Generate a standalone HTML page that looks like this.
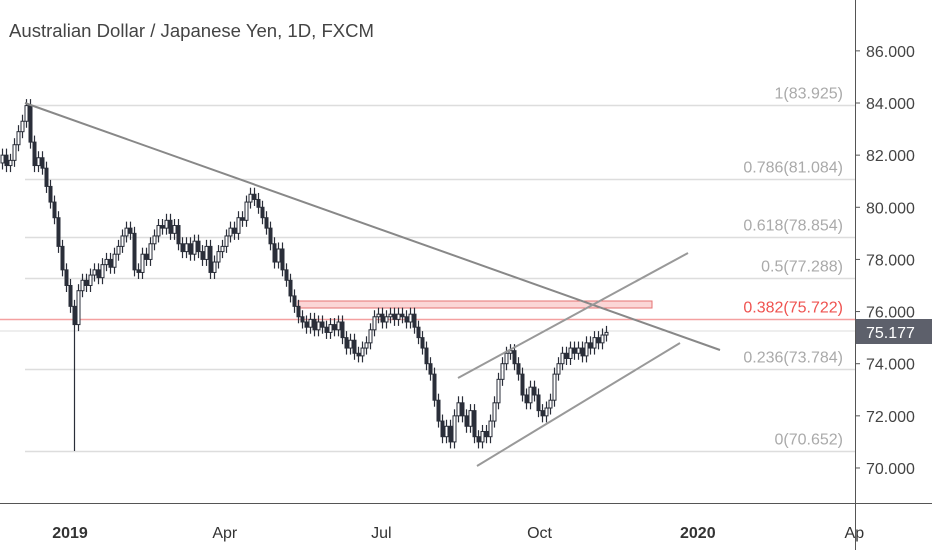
<!DOCTYPE html>
<html><head><meta charset="utf-8"><style>
body{margin:0;background:#fff;}
svg{display:block;font-family:"Liberation Sans",sans-serif;}
</style></head><body>
<svg id="chart" width="932" height="550" viewBox="0 0 932 550">
<rect width="932" height="550" fill="#fff"/>
<g id="fib"></g>
<rect x="298" y="301" width="354" height="7" fill="rgba(242,120,120,0.3)" stroke="#e57373" stroke-width="1"/>
<line x1="0" y1="331" x2="855" y2="331" stroke="#ddd" stroke-width="1"/>
<g id="candles"></g>
<line x1="25" y1="103" x2="720" y2="350" stroke="#888" stroke-width="2"/>
<line x1="458" y1="378" x2="688" y2="253" stroke="#999" stroke-width="2"/>
<line x1="477" y1="466" x2="680" y2="343" stroke="#999" stroke-width="2"/>
<line x1="855.5" y1="0" x2="855.5" y2="550" stroke="#555" stroke-width="1"/>
<line x1="0" y1="503.5" x2="932" y2="503.5" stroke="#555" stroke-width="1"/>
<g id="yticks"></g>
<g id="xticks"></g>
<rect x="856" y="319" width="76" height="25" fill="#5d606b"/>
<text x="866" y="338" font-size="16" fill="#fff">75.177</text>
<text x="9" y="37" font-size="18" fill="#444" textLength="365" lengthAdjust="spacingAndGlyphs">Australian Dollar / Japanese Yen, 1D, FXCM</text>
</svg>
<script>
const closes = [82.0,81.6,81.8,82.4,82.9,83.3,83.9,
82.5,81.6,81.9,81.5,80.8,80.2,
79.6,78.5,77.6,77.0,76.2,75.5,
76.8,77.2,77.0,77.4,77.6,77.3,77.8,78.0,77.7,78.2,78.5,78.9,79.2,79.0,77.6,77.5,78.2,78.0,78.6,78.9,79.3,79.2,79.5,79.0,79.3,78.6,78.3,78.6,78.2,78.7,78.3,78.0,78.5,77.5,77.9,78.3,78.5,78.9,79.2,79.0,79.6,79.5,80.2,80.5,80.3,80.0,79.6,79.2,78.6,77.9,78.4,77.6,77.2,76.6,76.2,75.8,75.6,75.4,75.7,75.3,75.6,75.4,75.2,75.5,75.3,75.6,75.0,74.6,74.9,74.4,74.3,74.6,74.8,75.3,75.8,75.9,75.6,75.8,75.9,75.7,75.9,75.8,75.6,75.9,75.4,75.0,74.6,74.0,73.6,72.6,71.8,71.2,71.6,71.0,72.0,72.5,72.0,71.6,72.2,71.2,71.0,71.4,71.2,71.8,72.5,73.4,74.0,74.4,74.5,74.0,73.6,72.8,72.5,73.1,72.8,72.2,72.0,72.3,72.6,73.6,74.0,74.4,74.2,74.6,74.4,74.6,74.3,74.8,74.6,75.0,74.8,75.1,75.2];
const flashCrashIndex = 18;
const flashCrashLow = 70.65;
const priceTicks = [86,84,82,80,78,76,74,72,70];
const fibRatios = ["1","0.786","0.618","0.5","0.382","0.236","0"];
const fibPrices = [83.925,81.084,78.854,77.288,75.722,73.784,70.652];
const timeLabels = ["2019","Apr","Jul","Oct","2020","Ap"];
const timeDays = [0,90,181,273,365,456];
const timeBold = [true,false,false,false,true,false];

const NS="http://www.w3.org/2000/svg";
function yS(p){return 103+(84-p)*26.07;}
function xDay(d){return 70+d*1.72;}
function xIdx(i){return 2+i*4;}
function mk(tag,attrs,parent){const e=document.createElementNS(NS,tag);for(const k in attrs)e.setAttribute(k,attrs[k]);parent.appendChild(e);return e;}

const fib=document.getElementById('fib');
fibPrices.forEach((p,i)=>{
  const red = fibRatios[i]==="0.382";
  const y=Math.round(yS(p))+0.5;
  const l=mk('line',{x1:red?0:25,y1:y,x2:855,y2:y,stroke:red?'#f4a0a0':'#ddd','stroke-width':1.5},fib);
  
  
  const t=mk('text',{x:843,y:y-7,'font-size':16,'text-anchor':'end',fill:red?'#ef5350':'#aaa'},fib);
  t.textContent=fibRatios[i]+'('+p.toFixed(3)+')';
  
  
});

const yt=document.getElementById('yticks');
priceTicks.forEach(p=>{
  const y=yS(p);
  const l=mk('line',{x1:855,y1:y,x2:860,y2:y,stroke:'#555'},yt);
  
  
  const t=mk('text',{x:866,y:y+6,'font-size':16,fill:'#444'},yt);
  t.textContent=p.toFixed(3);
  
  
});

const xt=document.getElementById('xticks');
timeLabels.forEach((s,i)=>{
  const x=xDay(timeDays[i]);
  const t=mk('text',{x:x,y:538,'font-size':16,'text-anchor':'middle',fill:'#333','font-weight':timeBold[i]?'bold':'normal'},xt);
  t.textContent=s;
  
  
});

const cg=document.getElementById('candles');
closes.forEach((c,i)=>{
  const o=i>0?closes[i-1]:c-0.3;
  let hi=Math.max(o,c)+0.25, lo=Math.min(o,c)-0.25;
  if(i===flashCrashIndex) lo=flashCrashLow;
  const x=xIdx(i);
  const w=mk('line',{x1:x+0.5,y1:yS(hi),x2:x+0.5,y2:yS(lo),stroke:'#2a2e39','stroke-width':1.2},cg);
  
  
  const top=yS(Math.max(o,c)), bot=yS(Math.min(o,c));
  const b=mk('rect',{x:x-1,y:top,width:3,height:Math.max(1,bot-top),fill:c>=o?'#fff':'#2a2e39',stroke:'#2a2e39','stroke-width':1},cg);
  
  
});
</script>
</body></html>
